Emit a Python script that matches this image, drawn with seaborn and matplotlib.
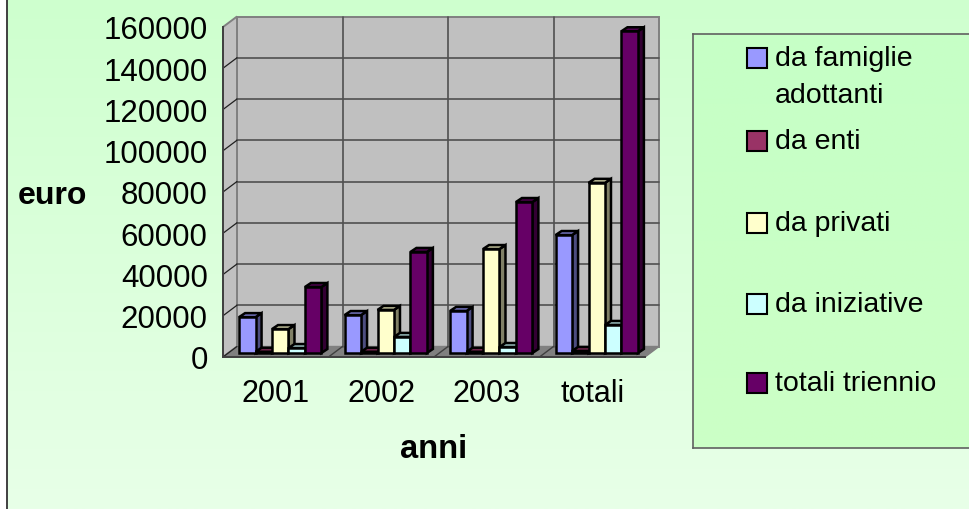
import numpy as np
import pandas as pd
import matplotlib
matplotlib.use('Agg')
import matplotlib.pyplot as plt
from matplotlib.colors import LinearSegmentedColormap
from matplotlib.patches import Polygon, Rectangle
from matplotlib.transforms import Affine2D
import seaborn as sns

categories = ['2001', '2002', '2003', 'totali']
series = ['da famiglie\nadottanti', 'da enti', 'da privati', 'da iniziative', 'totali triennio']
da_famiglie = [17400, 18400, 20400, 57200]
da_enti = [600, 600, 600, 1000]
da_privati = [11600, 20900, 50400, 82500]
da_iniziative = [2400, 7800, 2900, 13600]
totali_triennio = [32000, 49000, 73200, 156000]
y_ticks = [0, 20000, 40000, 60000, 80000, 100000, 120000, 140000, 160000]
colors = ['#9999FF', '#993366', '#FFFFCC', '#CCFFFF', '#660066']
side_colors = ['#4D4D80', '#4D1A33', '#808066', '#668080', '#330033']
top_colors = ['#7373BF', '#73264D', '#BFBF99', '#99BFBF', '#4D004D']

W, H = 969, 510
# decalage 3D en pixels
WALL_DX, WALL_DY = 14, 10.5
BAR_DX, BAR_DY = 4.5, 4
DEPTH_DX, DEPTH_DY = 6, 4

df = pd.DataFrame({
    'anno': categories * 5,
    'fonte': np.repeat(series, 4),
    'euro': da_famiglie + da_enti + da_privati + da_iniziative + totali_triennio,
})

sns.set_theme(style='white')
plt.rcParams['font.family'] = ['Liberation Sans', 'DejaVu Sans']

fig = plt.figure(figsize=(W / 100, H / 100), dpi=100, facecolor='white')

green = LinearSegmentedColormap.from_list('bg', ['#CEFFCE', '#E8FFE8'])
bg = fig.add_axes([7 / W, 0, 1 - 7 / W, 1], zorder=0)
bg.imshow(np.linspace(0, 1, 256)[:, None], cmap=green, aspect='auto')
bg.axis('off')
fig.add_artist(plt.Line2D([7 / W, 7 / W], [0, 1], color='#404040', lw=1.4))

ax = fig.add_axes([223 / W, 1 - 358 / H, 422 / W, 330 / H], zorder=2)
ax.patch.set_alpha(0)
sns.barplot(data=df, x='anno', y='euro', hue='fonte', order=categories, hue_order=series,
            palette=colors, width=0.78, gap=0, saturation=1, legend=False, ax=ax,
            edgecolor='black', linewidth=1.8)
ax.set_xlim(-0.5, 3.5)
ax.set_ylim(0, 160000)
ax.set_yticks(y_ticks)
ax.set_xticks(np.arange(-0.5, 4), labels=[])
ax.set_xticks(range(4), labels=categories, minor=True)
ax.tick_params(axis='x', which='minor', length=0, labelsize=22, pad=15, colors='black')
ax.tick_params(axis='x', which='major', length=5, width=1.2, color='#404040')
ax.tick_params(axis='y', length=4, width=1.2, color='#404040', labelsize=22.5, pad=7, labelcolor='black')
ax.set_xlabel('anni', fontsize=23.5, fontweight='bold', labelpad=18, color='black')
ax.set_ylabel('euro', fontsize=23, fontweight='bold', rotation=0, va='center', color='black')
ax.yaxis.set_label_coords(-0.405, 0.49)
for name in ['top', 'right']:
    ax.spines[name].set_visible(False)
for name in ['left', 'bottom']:
    ax.spines[name].set_color('#404040')
    ax.spines[name].set_linewidth(1.4)

wall = ax.transData + Affine2D().translate(WALL_DX, WALL_DY)
data = ax.transData
x0, x1, y0, y1 = -0.5, 3.5, 0, 160000

def px(t, x, y):
    return t.transform((x, y))

identity = Affine2D()
pts = dict(
    a=px(data, x0, y0), b=px(data, x1, y0), c=px(wall, x1, y0), d=px(wall, x0, y0),
    e=px(wall, x0, y1), f=px(wall, x1, y1), g=px(data, x0, y1),
)
ax.add_patch(Polygon([pts['d'], pts['c'], pts['f'], pts['e']], transform=identity, fc='#C0C0C0',
                     ec='#808080', lw=1.4, zorder=0.1, clip_on=False))
ax.add_patch(Polygon([pts['a'], pts['d'], pts['e'], pts['g']], transform=identity, fc='#C0C0C0',
                     ec='#808080', lw=1.4, zorder=0.1, clip_on=False))
ax.add_patch(Polygon([pts['a'], pts['b'], pts['c'], pts['d']], transform=identity, fc='#808080',
                     ec='#808080', lw=1, zorder=0.1, clip_on=False))

for v in y_ticks[1:-1]:
    ax.plot([x0, x1], [v, v], color='#505050', lw=1.2, transform=wall, zorder=0.2, clip_on=False)
for v in y_ticks[:-1]:
    p, q = px(data, x0, v), px(wall, x0, v)
    ax.plot([p[0], q[0]], [p[1], q[1]], color='#202020', lw=0.9, transform=identity, zorder=0.2, clip_on=False)
for v in np.arange(-0.5, 2.5):
    ax.plot([v + 1, v + 1], [y0, y1], color='#505050', lw=1.2, transform=wall, zorder=0.2, clip_on=False)
for v in np.arange(0.5, 3):
    p, q = px(data, v, y0), px(wall, v, y0)
    ax.plot([p[0], q[0]], [p[1], q[1]], color='#404040', lw=1.0, transform=identity, zorder=0.25, clip_on=False)

# faces laterale et superieure construites depuis les barres de seaborn
bars = [p for p in ax.patches if isinstance(p, Rectangle) and p.get_height() > 0 and p.get_width() < 1]
bars = [p for p in bars if p.get_facecolor()[3] > 0][:20]
shift = ax.transData + Affine2D().translate(BAR_DX, BAR_DY)
for i, bar in enumerate(bars):
    s = i // 4
    cat = i % 4
    z = 1 + cat * 10 + s
    l, b = px(shift, bar.get_x(), 0)
    r, t = px(shift, bar.get_x() + bar.get_width(), bar.get_height())
    bar.set_transform(shift)
    bar.set_zorder(z + 0.2)
    bar.set_clip_on(False)
    ax.add_patch(Polygon([(r, b), (r + DEPTH_DX, b + DEPTH_DY), (r + DEPTH_DX, t + DEPTH_DY), (r, t)],
                         transform=identity, fc=side_colors[s], ec='black', lw=1.8, zorder=z, clip_on=False))
    ax.add_patch(Polygon([(l, t), (r, t), (r + DEPTH_DX, t + DEPTH_DY), (l + DEPTH_DX, t + DEPTH_DY)],
                         transform=identity, fc=top_colors[s], ec='black', lw=1.8, zorder=z, clip_on=False))

# legende
leg = fig.add_axes([693 / W, 1 - 449 / H, (W - 693) / W, 414 / H], zorder=3)
leg.imshow(np.linspace(0, 1, 256)[:, None], cmap=LinearSegmentedColormap.from_list('lg', ['#C6FFC6', '#CCFFC6']),
           aspect='auto', extent=[693, W, 449, 35])
leg.set_xlim(693, W)
leg.set_ylim(449, 35)
leg.set_xticks([])
leg.set_yticks([])
for name, sp in leg.spines.items():
    sp.set_color('#606060')
    sp.set_linewidth(1.2)
leg.spines['right'].set_visible(False)
legend_y = [59, 142, 224, 305, 384]
for name, col, yy in zip(series, colors, legend_y):
    leg.add_patch(Rectangle((747, yy - 10), 20, 20, fc=col, ec='black', lw=1.5))
    lines = name.split('\n')
    leg.text(775, yy, lines[0], fontsize=20.5, va='center', color='black')
    if len(lines) > 1:
        leg.text(775, yy + 37, lines[1], fontsize=20.5, va='center', color='black')

fig.savefig('out.png', dpi=100)
